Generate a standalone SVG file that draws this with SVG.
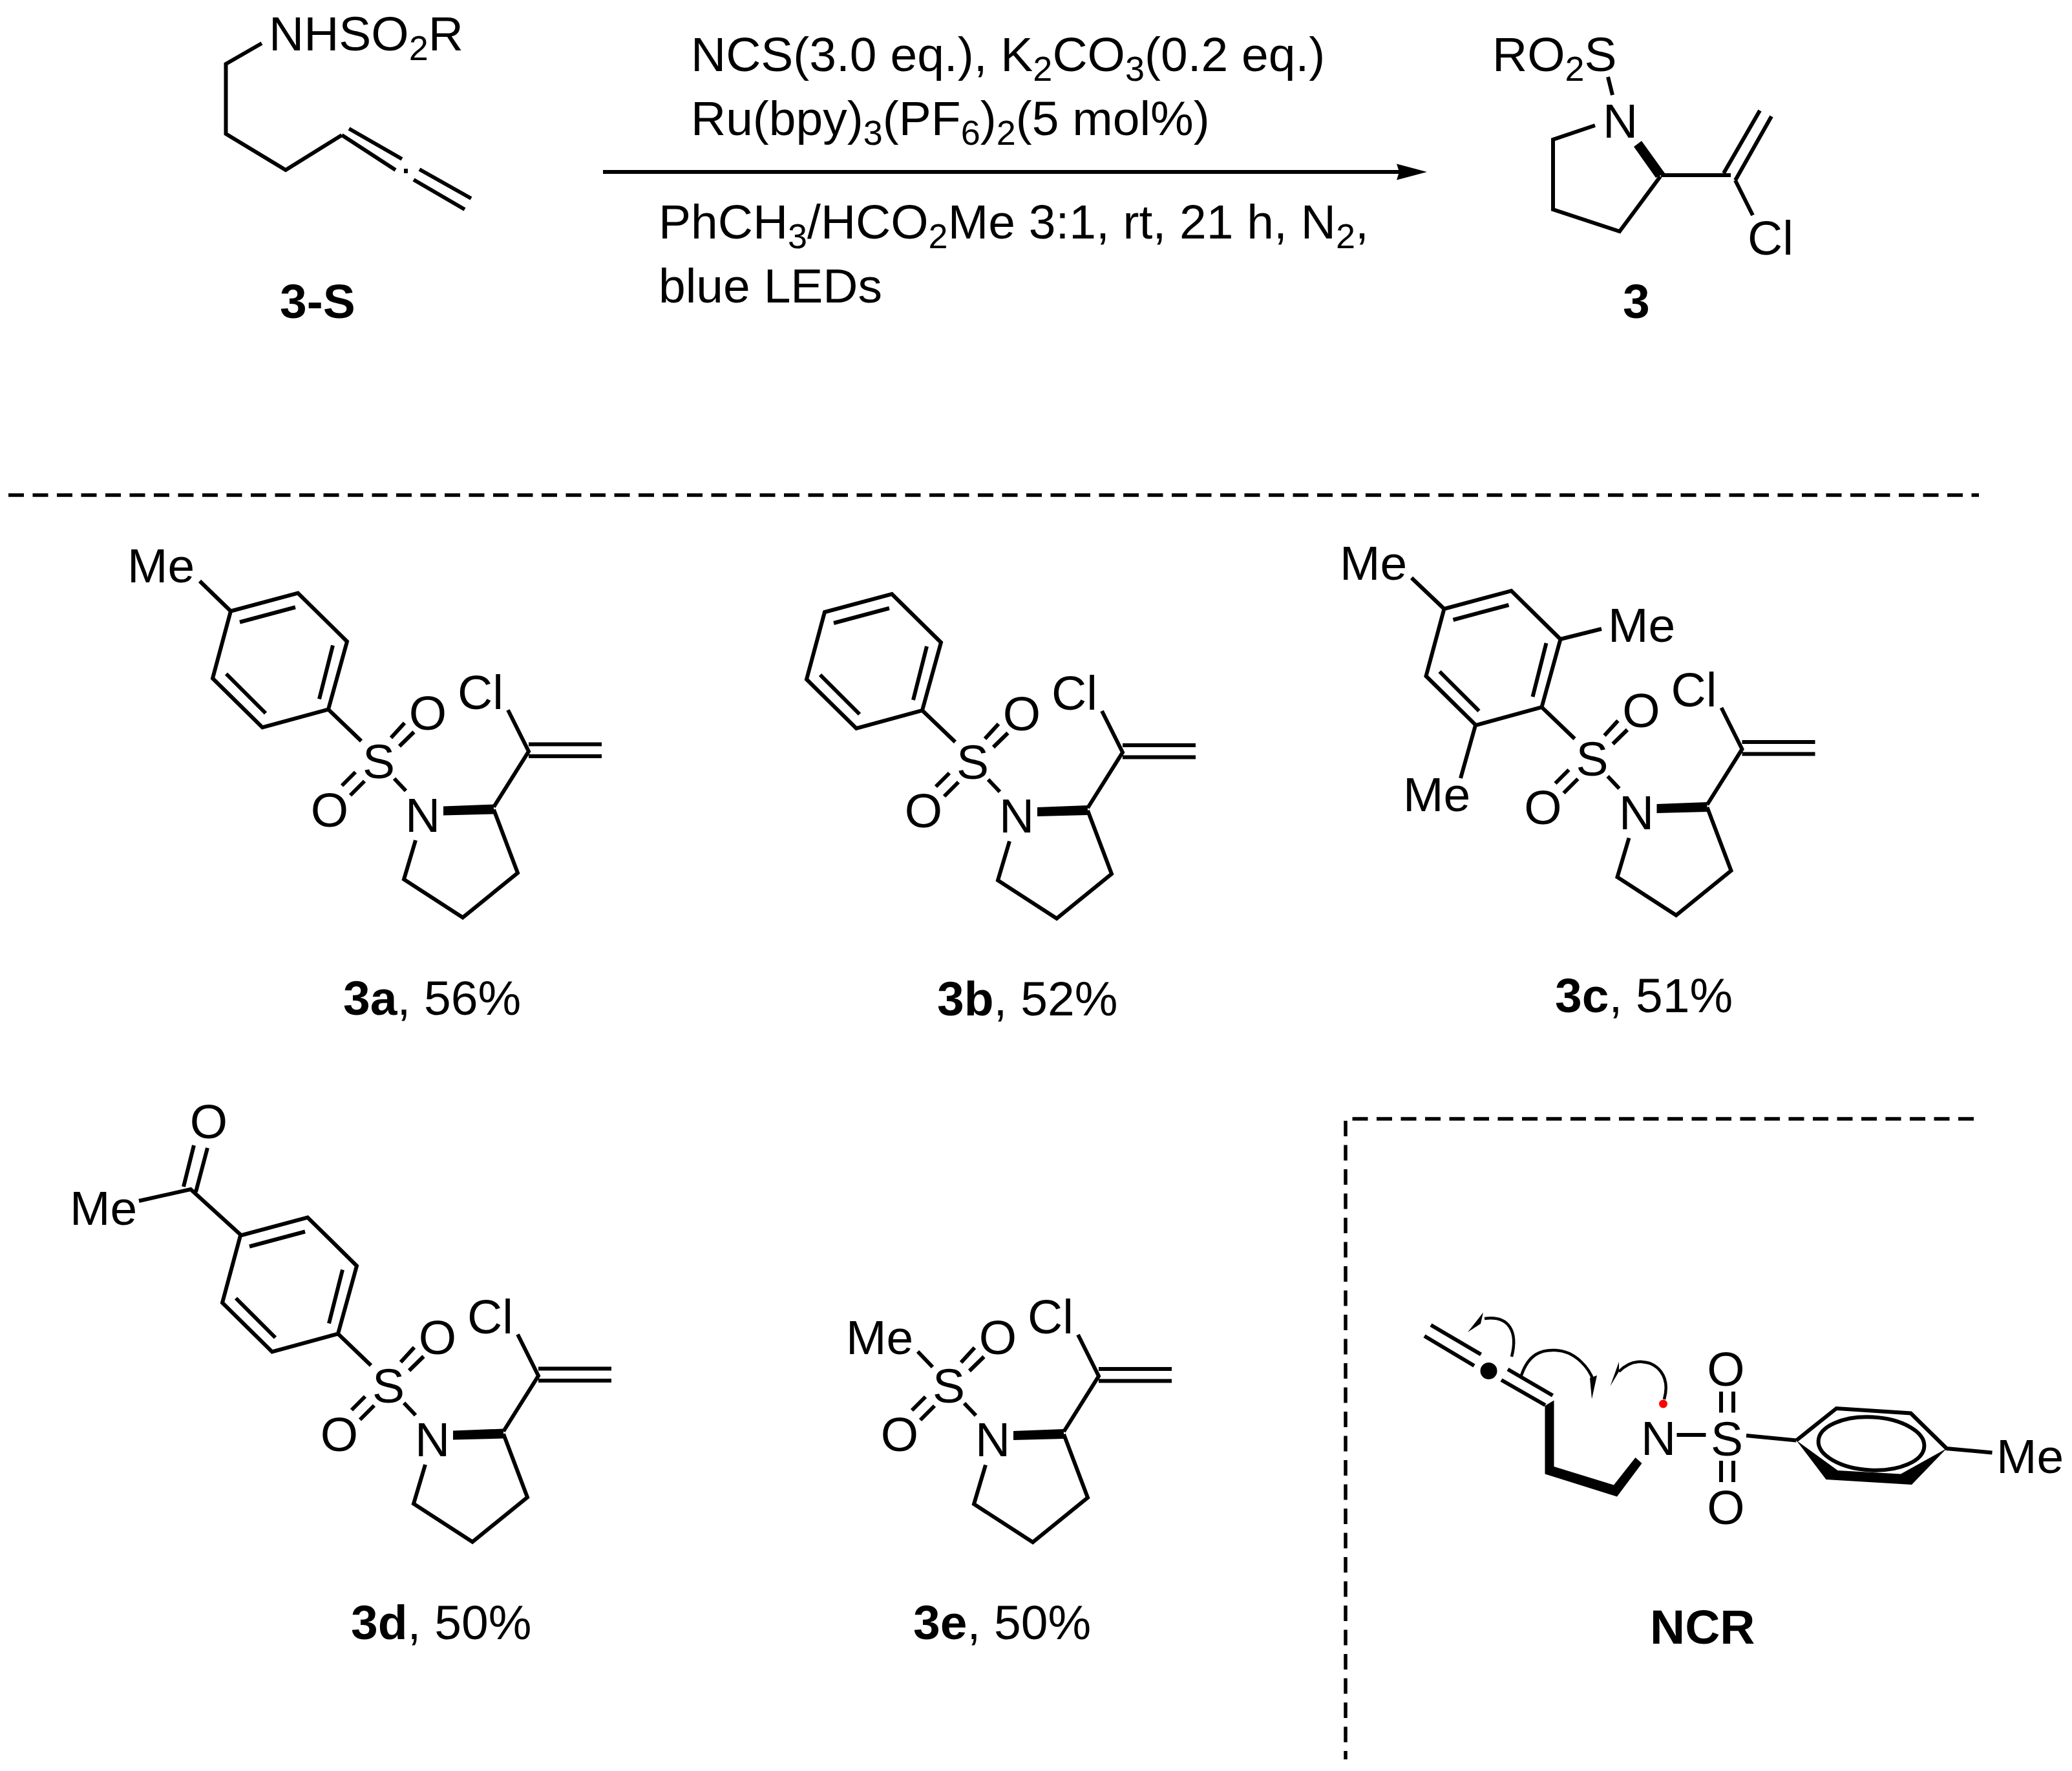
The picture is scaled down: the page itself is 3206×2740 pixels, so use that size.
<svg xmlns="http://www.w3.org/2000/svg" width="3206" height="2740" viewBox="0 0 3206 2740">
<style>
text{font-family:"Liberation Sans",Arial,sans-serif;font-size:75px;fill:#000}
.b{font-weight:bold}
.m{text-anchor:middle}
.s{font-size:54px}
.bond{fill:none;stroke:#000;stroke-width:6;stroke-linejoin:miter}
.thin{fill:none;stroke:#000;stroke-width:4.5}
.dash{fill:none;stroke:#000;stroke-width:5.5;stroke-dasharray:24 13.5}
</style>
<defs>
<marker id="ah" markerUnits="userSpaceOnUse" markerWidth="50" markerHeight="30" refX="4" refY="15" orient="auto"><path d="M0 2.5L47 15L0 27.5L4 15z"/></marker>
<g id="core">
<path class="bond" d="M1524 1143L1545 1120M1537 1156L1559.5 1134M1448 1217L1469 1196M1461 1232L1483 1210M1529 1206L1547 1225M1562 1301.5L1544 1362L1635 1421L1720 1352L1683 1254M1683 1250L1737 1164L1705 1100M1737 1153H1850M1737 1171.5H1850"/>
<polygon points="1605,1249 1683,1246 1683,1261 1605,1263"/>
</g>
<path id="aryl" class="bond" d="M1478 1148L1427 1099L1325 1127L1248 1051L1276 947L1380 919L1456 994L1427 1099M1376 941L1290 964M1434 1000L1413 1083M1330 1105L1269 1044"/>
</defs>
<rect width="3206" height="2740" fill="#fff"/>

<g id="connectors">
<line x1="933" y1="266" x2="2165" y2="266" stroke="#000" stroke-width="6" marker-end="url(#ah)"/>
<path class="dash" d="M13 766H3062"/>
<path class="dash" d="M3054 1731H2082V2722"/>
</g>

<g id="node-3S">
<path class="bond" d="M405 67L349.5 99V207L442 263L529 209M529 209L612 263M540 199L622 246M649 262L729 307M640 278L719 324"/>
<rect x="625" y="261" width="6" height="7"/>
<text x="416" y="78">NHSO<tspan class="s" dy="15">2</tspan><tspan dy="-15">R</tspan></text>
<text class="b" x="433" y="492">3-S</text>
</g>

<g id="node-conditions">
<text x="1069" y="110">NCS(3.0 eq.), K<tspan class="s" dy="15">2</tspan><tspan dy="-15">CO</tspan><tspan class="s" dy="15">3</tspan><tspan dy="-15">(0.2 eq.)</tspan></text>
<text x="1069" y="209">Ru(bpy)<tspan class="s" dy="15">3</tspan><tspan dy="-15">(PF</tspan><tspan class="s" dy="15">6</tspan><tspan dy="-15">)</tspan><tspan class="s" dy="15">2</tspan><tspan dy="-15">(5 mol%)</tspan></text>
<text x="1019" y="369">PhCH<tspan class="s" dy="15">3</tspan><tspan dy="-15">/HCO</tspan><tspan class="s" dy="15">2</tspan><tspan dy="-15">Me 3:1, rt, 21 h, N</tspan><tspan class="s" dy="15">2</tspan><tspan dy="-15">,</tspan></text>
<text x="1019" y="468">blue LEDs</text>
</g>

<g id="node-3">
<path class="bond" d="M2488 119L2495 147M2468 194L2403 216V324L2506 358L2569 273M2570 271H2678M2667 268L2723 171M2685 279L2741 180M2685 279L2712 333"/>
<polygon points="2528,227 2540,218 2576,268 2562,275"/>
<text x="2309" y="110">RO<tspan class="s" dy="15">2</tspan><tspan dy="-15">S</tspan></text>
<text x="2480" y="213">N</text>
<text x="2704" y="394">Cl</text>
<text class="b" x="2511" y="492">3</text>
</g>

<g id="node-3a">
<g transform="translate(-919,-1.5)"><use href="#core"/><use href="#aryl"/></g>
<path class="bond" d="M357 945.5L309 899"/>
<text x="197" y="901">Me</text>
<text class="m" x="586" y="1203.5">S</text>
<text class="m" x="662" y="1128.5">O</text>
<text class="m" x="510" y="1278.5">O</text>
<text x="627" y="1286.5">N</text>
<text x="708" y="1096.5">Cl</text>
<text x="531" y="1570"><tspan class="b">3a</tspan>, 56%</text>
</g>

<g id="node-3b">
<use href="#core"/><use href="#aryl"/>
<text class="m" x="1505" y="1205">S</text>
<text class="m" x="1581" y="1130">O</text>
<text class="m" x="1429" y="1280">O</text>
<text x="1546" y="1288">N</text>
<text x="1627" y="1098">Cl</text>
<text x="1450" y="1571"><tspan class="b">3b</tspan>, 52%</text>
</g>

<g id="node-3c">
<g transform="translate(958.5,-5)"><use href="#core"/><use href="#aryl"/></g>
<path class="bond" d="M2234.5 942L2184 894M2414 989L2478 973M2283 1122L2260 1204"/>
<text x="2073" y="896.5">Me</text>
<text x="2488" y="993">Me</text>
<text x="2171" y="1255">Me</text>
<text class="m" x="2463.5" y="1200">S</text>
<text class="m" x="2539.5" y="1125">O</text>
<text class="m" x="2387.5" y="1275">O</text>
<text x="2505" y="1283">N</text>
<text x="2585.5" y="1093">Cl</text>
<text x="2406" y="1566"><tspan class="b">3c</tspan>, 51%</text>
</g>

<g id="node-3d">
<g transform="translate(-904,964.5)"><use href="#core"/><use href="#aryl"/></g>
<path class="bond" d="M373 1911L295 1840L215 1858M284 1836L300 1772M303 1844L321 1776"/>
<text x="108" y="1894.5">Me</text>
<text class="m" x="323" y="1761">O</text>
<text class="m" x="601" y="2169.5">S</text>
<text class="m" x="677" y="2094.5">O</text>
<text class="m" x="525" y="2244.5">O</text>
<text x="642" y="2252.5">N</text>
<text x="723" y="2062.5">Cl</text>
<text x="543" y="2536"><tspan class="b">3d</tspan>, 50%</text>
</g>

<g id="node-3e">
<g transform="translate(-37,965)"><use href="#core"/></g>
<path class="bond" d="M1420 2091L1443 2115"/>
<text x="1309" y="2094.5">Me</text>
<text class="m" x="1468" y="2170">S</text>
<text class="m" x="1544" y="2095">O</text>
<text class="m" x="1392" y="2245">O</text>
<text x="1509" y="2253">N</text>
<text x="1590" y="2063">Cl</text>
<text x="1413" y="2536"><tspan class="b">3e</tspan>, 50%</text>
</g>

<g id="node-NCR">
<path class="bond" d="M2214 2050L2291.5 2095.5M2204 2067L2281 2113M2333 2118.5L2402.5 2159M2323 2135L2391 2174M2594.5 2220H2639.5M2663 2153V2185.5M2682 2153V2185.5M2663 2260V2293M2682 2260V2293M2702 2221L2779.5 2228.5M2779.5 2228.5L2841.5 2179L2956.5 2186.5L3012 2241L3082.5 2247.5"/>
<circle cx="2303.5" cy="2121" r="13"/>
<polygon points="2404.5,2166.5 2390.5,2175 2390.5,2280.5 2502,2315.5 2540.5,2264 2530.5,2255 2497,2297.5 2404.5,2269"/>
<polygon points="2779.5,2228.5 2825.5,2289 2958,2297 3012,2241 2941,2280.5 2843.5,2275"/>
<ellipse class="bond" cx="2895.5" cy="2233.5" rx="82" ry="41" transform="rotate(3 2895.5 2233.5)"/>
<path class="thin" d="M2339 2099C2349 2060 2335 2035 2297 2040"/>
<polygon points="2271,2061 2295,2030.5 2291,2048"/>
<path class="thin" d="M2354 2128C2365 2095 2385 2088 2406 2089C2440 2090 2460 2120 2465 2135"/>
<polygon points="2463,2164.5 2471,2128 2460,2132"/>
<path class="thin" d="M2575 2165C2585 2130 2565 2105 2534 2107C2522 2108 2512 2115 2505 2122"/>
<polygon points="2491.5,2144.5 2505,2107 2505,2122"/>
<circle cx="2573.5" cy="2172" r="6.5" fill="#f00"/>
<text x="2539" y="2250.5">N</text>
<text class="m" x="2672" y="2251.5">S</text>
<text class="m" x="2670.5" y="2143.5">O</text>
<text class="m" x="2670.5" y="2358">O</text>
<text x="3089" y="2279">Me</text>
<text class="b" x="2553" y="2542.5">NCR</text>
</g>
</svg>
